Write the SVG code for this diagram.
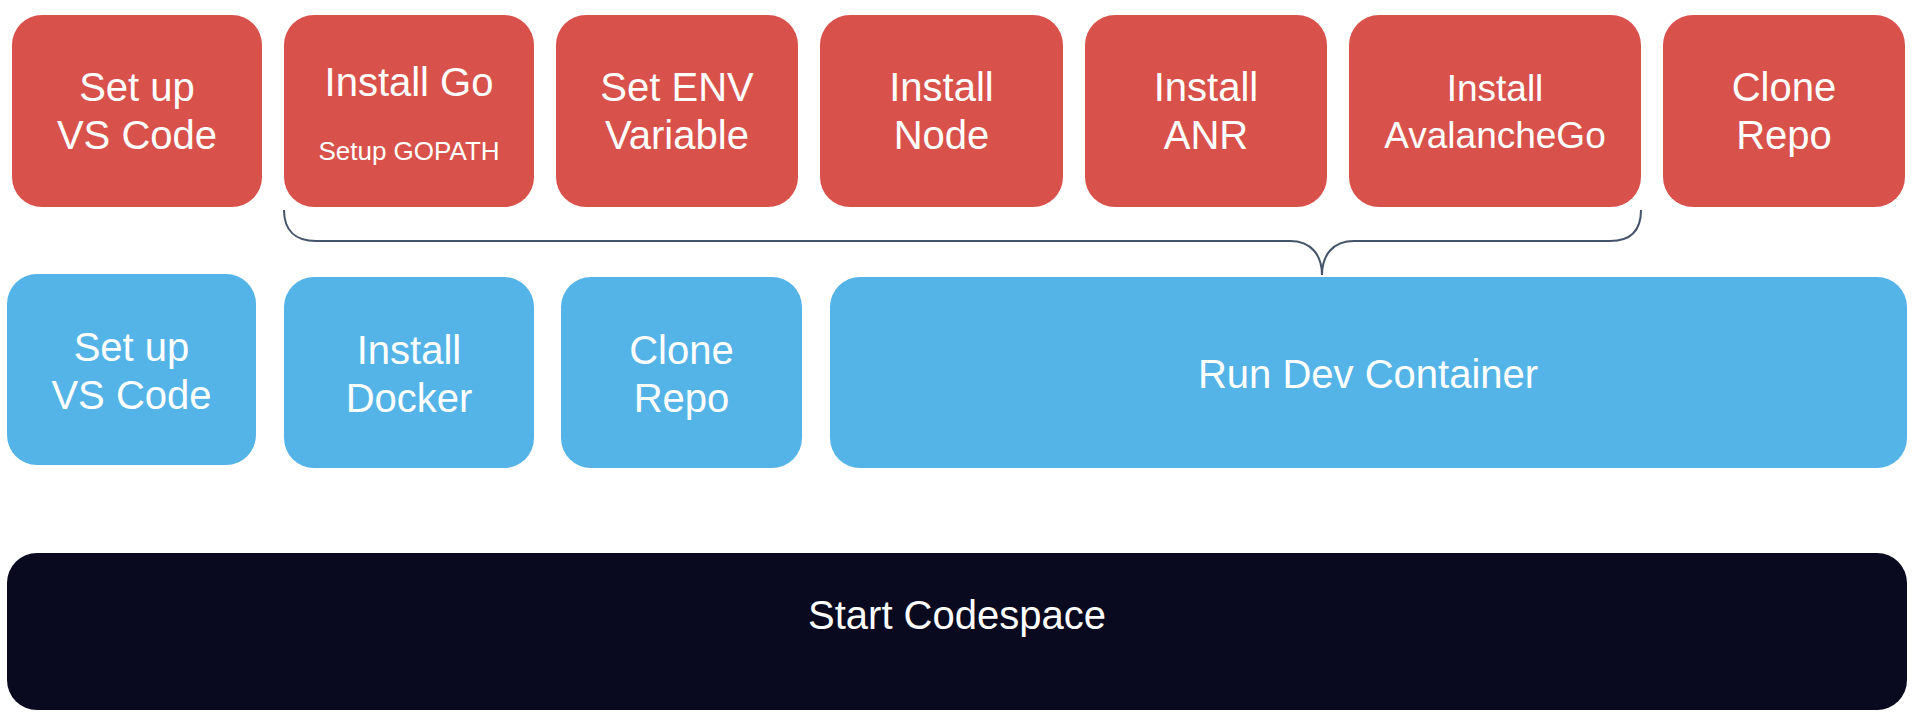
<svg xmlns="http://www.w3.org/2000/svg" width="1920" height="728" viewBox="0 0 1920 728">
<style>
.red{fill:#D8524B}
.blue{fill:#55B4E7}
.dark{fill:#090A1F}
text{font-family:"Liberation Sans",Arial,sans-serif;fill:#FFFFFF;text-anchor:middle;font-size:40px}
.sm{font-size:26px}
.md{font-size:37px}
.brace{fill:none;stroke:#44546A;stroke-width:2}
</style>
<rect width="1920" height="728" fill="#FFFFFF"/>
<g id="connectors">
<path class="brace" d="M284,210 C284,230 295,241 316,241 L1290,241 C1311,241 1322,255 1322,275 C1322,255 1333,241 1354,241 L1610,241 C1631,241 1641,230 1641,210"/>
</g>
<g id="r1"><rect class="red" x="12" y="15" width="250" height="192" rx="30"/><text x="137" y="101">Set up</text><text x="137" y="149">VS Code</text></g>
<g id="r2"><rect class="red" x="284" y="15" width="250" height="192" rx="30"/><text x="409" y="96">Install Go</text><text class="sm" x="409" y="160">Setup GOPATH</text></g>
<g id="r3"><rect class="red" x="556" y="15" width="242" height="192" rx="30"/><text x="677" y="101">Set ENV</text><text x="677" y="149">Variable</text></g>
<g id="r4"><rect class="red" x="820" y="15" width="243" height="192" rx="30"/><text x="941.5" y="101">Install</text><text x="941.5" y="149">Node</text></g>
<g id="r5"><rect class="red" x="1085" y="15" width="242" height="192" rx="30"/><text x="1206" y="101">Install</text><text x="1206" y="149">ANR</text></g>
<g id="r6"><rect class="red" x="1349" y="15" width="292" height="192" rx="30"/><text class="md" x="1495" y="101">Install</text><text class="md" x="1495" y="148">AvalancheGo</text></g>
<g id="r7"><rect class="red" x="1663" y="15" width="242" height="192" rx="30"/><text x="1784" y="101">Clone</text><text x="1784" y="149">Repo</text></g>
<g id="b1"><rect class="blue" x="7" y="274" width="249" height="191" rx="30"/><text x="131.5" y="361">Set up</text><text x="131.5" y="409">VS Code</text></g>
<g id="b2"><rect class="blue" x="284" y="277" width="250" height="191" rx="30"/><text x="409" y="364">Install</text><text x="409" y="412">Docker</text></g>
<g id="b3"><rect class="blue" x="561" y="277" width="241" height="191" rx="30"/><text x="681.5" y="364">Clone</text><text x="681.5" y="412">Repo</text></g>
<g id="b4"><rect class="blue" x="830" y="277" width="1077" height="191" rx="30"/><text x="1368" y="388">Run Dev Container</text></g>
<g id="k1"><rect class="dark" x="7" y="553" width="1900" height="157" rx="30"/><text x="957" y="629">Start Codespace</text></g>
</svg>
